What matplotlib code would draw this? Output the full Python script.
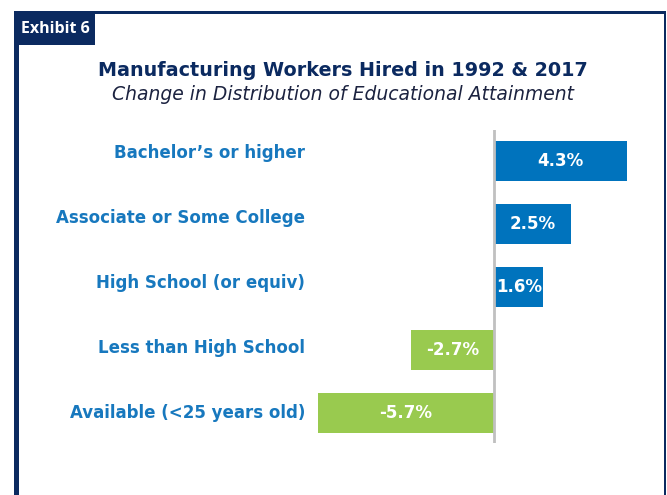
import matplotlib
matplotlib.use("Agg")
import matplotlib.pyplot as plt
from matplotlib.patches import Rectangle

# data
categories = ["Bachelor\u2019s or higher", "Associate or Some College",
              "High School (or equiv)", "Less than High School",
              "Available (<25 years old)"]
changes = [4.3, 2.5, 1.6, -2.7, -5.7]

NAVY = "#0b2a60"
BLUE = "#0073bd"
GREEN = "#99ca4f"
LABEL_BLUE = "#1778be"

W, H = 667, 495
plt.rcParams["font.family"] = ["DejaVu Sans"]

fig = plt.figure(figsize=(W / 100, H / 100), dpi=100)


def px(x, y):
    # pixel coords (top-left origin) -> figure fraction
    return x / W, 1 - y / H


def rect(x0, y0, x1, y1, color):
    fx, fy = px(x0, y1)
    fig.add_artist(Rectangle((fx, fy), (x1 - x0) / W, (y1 - y0) / H,
                             transform=fig.transFigure, color=color, lw=0))


# frame
rect(14, 11, 666, 14, NAVY)
rect(14, 11, 19, H, NAVY)
rect(664, 11, 666, H, NAVY)
rect(14, 11, 95, 45, NAVY)
fig.text(*px(55, 29), "Exhibit 6", color="white", fontsize=11.5,
         fontweight="bold", ha="center", va="center", family="Open Sans")

fig.text(*px(343, 70), "Manufacturing Workers Hired in 1992 & 2017",
         color=NAVY, fontsize=13.8, fontweight="bold", ha="center", va="center")
fig.text(*px(343, 95), "Change in Distribution of Educational Attainment",
         color="#1c2340", fontsize=13.5, style="italic", ha="center", va="center")

# axes: zero line at px 494, scale ~30.9 px per point
ax_l, ax_r, ax_t, ax_b = 310, 660, 130, 443
ax = fig.add_axes([ax_l / W, 1 - ax_b / H, (ax_r - ax_l) / W, (ax_b - ax_t) / H])
scale = 30.9
ax.set_xlim((ax_l - 494) / scale, (ax_r - 494) / scale)
ax.set_ylim(4.48, -0.49)

ypos = list(range(len(categories)))
colors = [BLUE if v > 0 else GREEN for v in changes]
ax.barh(ypos, changes, height=0.635, color=colors, zorder=2)
ax.axvline(0, color="#c0c0c0", lw=2, zorder=3)

for y, v in zip(ypos, changes):
    ax.text(v / 2, y, f"{v:.1f}%", color="white", fontsize=12,
            fontweight="bold", ha="center", va="center", zorder=4)

# category labels sit on a slightly wider pitch than the bars
n = len(categories)
for i, cat in enumerate(categories):
    ly = (n - 1) - (n - 1 - i) * 65 / 63
    ax.text(-5 / (ax_r - ax_l), ly, cat, color=LABEL_BLUE, fontsize=12,
            fontweight="bold", ha="right", va="center",
            transform=ax.get_yaxis_transform())

ax.set_xticks([])
ax.set_yticks([])
for s in ax.spines.values():
    s.set_visible(False)
ax.patch.set_alpha(0)

fig.savefig("out.png", dpi=100)
